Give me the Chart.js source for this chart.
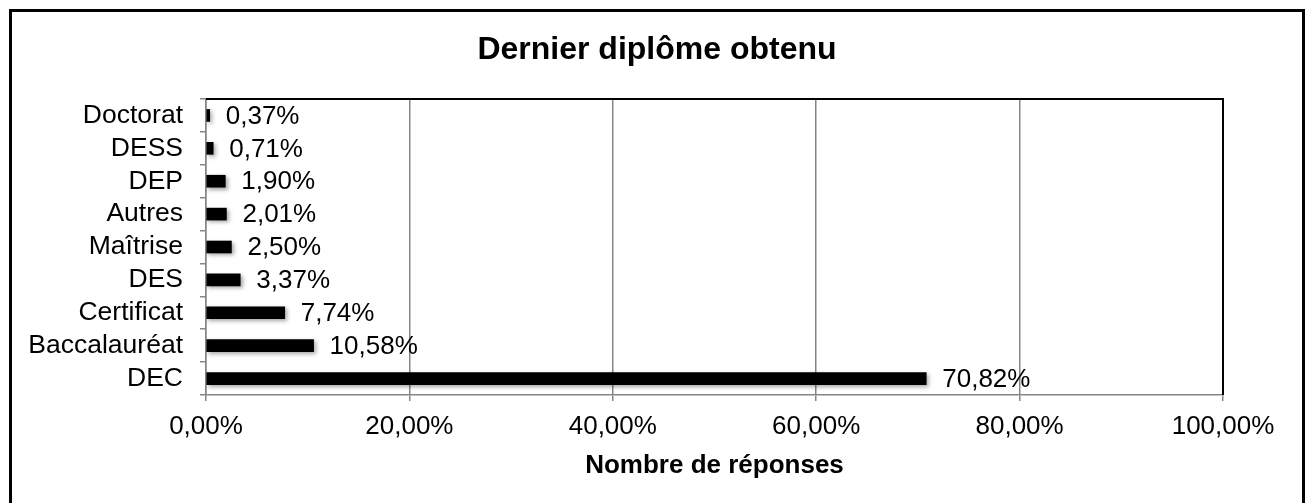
<!DOCTYPE html>
<html>
<head>
<meta charset="utf-8">
<script src="https://cdn.jsdelivr.net/npm/chart.js@4"></script>
<style>
  html, body { margin: 0; padding: 0; background: #fff; }
  #wrap { width: 1306px; height: 503px; }
</style>
</head>
<body>
<div id="wrap"><canvas id="myCanvas" width="1306" height="503"></canvas></div>
<script>
const categories = ["Doctorat", "DESS", "DEP", "Autres", "Maîtrise", "DES", "Certificat", "Baccalauréat", "DEC"];
const values = [0.37, 0.71, 1.90, 2.01, 2.50, 3.37, 7.74, 10.58, 70.82];
const xTicks = [0, 20, 40, 60, 80, 100];

const FONT = "'Liberation Sans', Arial, sans-serif";
const GREY = "#868686";

function pct(v) {
    return v.toFixed(2).replace(".", ",") + "%";
}

// outer frame + black top/right plot border
const framePlugin = {
    id: "frame",
    afterDraw(chart) {
        const ctx = chart.ctx;
        const a = chart.chartArea;
        ctx.save();
        ctx.strokeStyle = "#000";
        ctx.lineWidth = 3;
        ctx.strokeRect(10.5, 10.5, 1293, 600);
        ctx.lineWidth = 2;
        ctx.beginPath();
        ctx.moveTo(a.left, a.top);
        ctx.lineTo(a.right, a.top);
        ctx.lineTo(a.right, a.bottom);
        ctx.stroke();
        ctx.restore();
    }
};

// soft shadow under the bars
const shadowPlugin = {
    id: "barShadow",
    beforeDatasetsDraw(chart) {
        const ctx = chart.ctx;
        ctx.save();
        ctx.shadowColor = "rgba(0,0,0,0.35)";
        ctx.shadowBlur = 4;
        ctx.shadowOffsetX = 2;
        ctx.shadowOffsetY = 2;
    },
    afterDatasetsDraw(chart) {
        chart.ctx.restore();
    }
};

// value labels right of each bar
const labelPlugin = {
    id: "valueLabels",
    afterDatasetsDraw(chart) {
        const ctx = chart.ctx;
        const meta = chart.getDatasetMeta(0);
        ctx.save();
        ctx.font = "26px " + FONT;
        ctx.fillStyle = "#000";
        ctx.textAlign = "left";
        ctx.textBaseline = "middle";
        meta.data.forEach((bar, i) => {
            ctx.fillText(pct(values[i]), bar.x + 16, bar.y + 1);
        });
        ctx.restore();
    }
};

const myCanvas = document.getElementById("myCanvas");

const gChart = new Chart(myCanvas, {
    type: "bar",
    data: {
        labels: categories,
        datasets: [{
            data: values,
            backgroundColor: "#000",
            borderWidth: 0,
            barThickness: 12
        }]
    },
    plugins: [shadowPlugin, labelPlugin, framePlugin],
    options: {
        indexAxis: "y",
        responsive: false,
        animation: false,
        layout: {
            padding: { top: 14, left: 28, right: 20, bottom: 16 }
        },
        plugins: {
            legend: { display: false },
            tooltip: { enabled: false },
            title: {
                display: true,
                text: "Dernier diplôme obtenu",
                color: "#000",
                font: { family: FONT, size: 32, weight: "bold" },
                padding: { top: 17, bottom: 29.6 }
            }
        },
        scales: {
            x: {
                min: 0,
                max: 100,
                afterBuildTicks: (scale) => {
                    scale.ticks = xTicks.map(v => ({ value: v }));
                },
                afterFit: (scale) => {
                    scale.paddingRight = 83;
                    scale.height = 92;
                },
                grid: {
                    color: GREY,
                    lineWidth: 1.5,
                    tickLength: 6
                },
                border: { color: GREY, width: 1.5 },
                ticks: {
                    color: "#000",
                    padding: 10,
                    maxRotation: 0,
                    autoSkip: false,
                    font: { family: FONT, size: 26 },
                    callback: (v) => pct(v)
                },
                title: {
                    display: true,
                    text: "Nombre de réponses",
                    color: "#000",
                    font: { family: FONT, size: 26, weight: "bold" },
                    padding: { top: 0, bottom: 6 }
                }
            },
            y: {
                afterFit: (scale) => {
                    scale.width = 178;
                },
                grid: {
                    display: true,
                    drawOnChartArea: false,
                    color: GREY,
                    lineWidth: 1.5,
                    tickLength: 6
                },
                border: { color: GREY, width: 1.5 },
                ticks: {
                    color: "#000",
                    padding: 17,
                    autoSkip: false,
                    font: { family: FONT, size: 26.5 }
                }
            }
        }
    }
});
</script>
</body>
</html>
